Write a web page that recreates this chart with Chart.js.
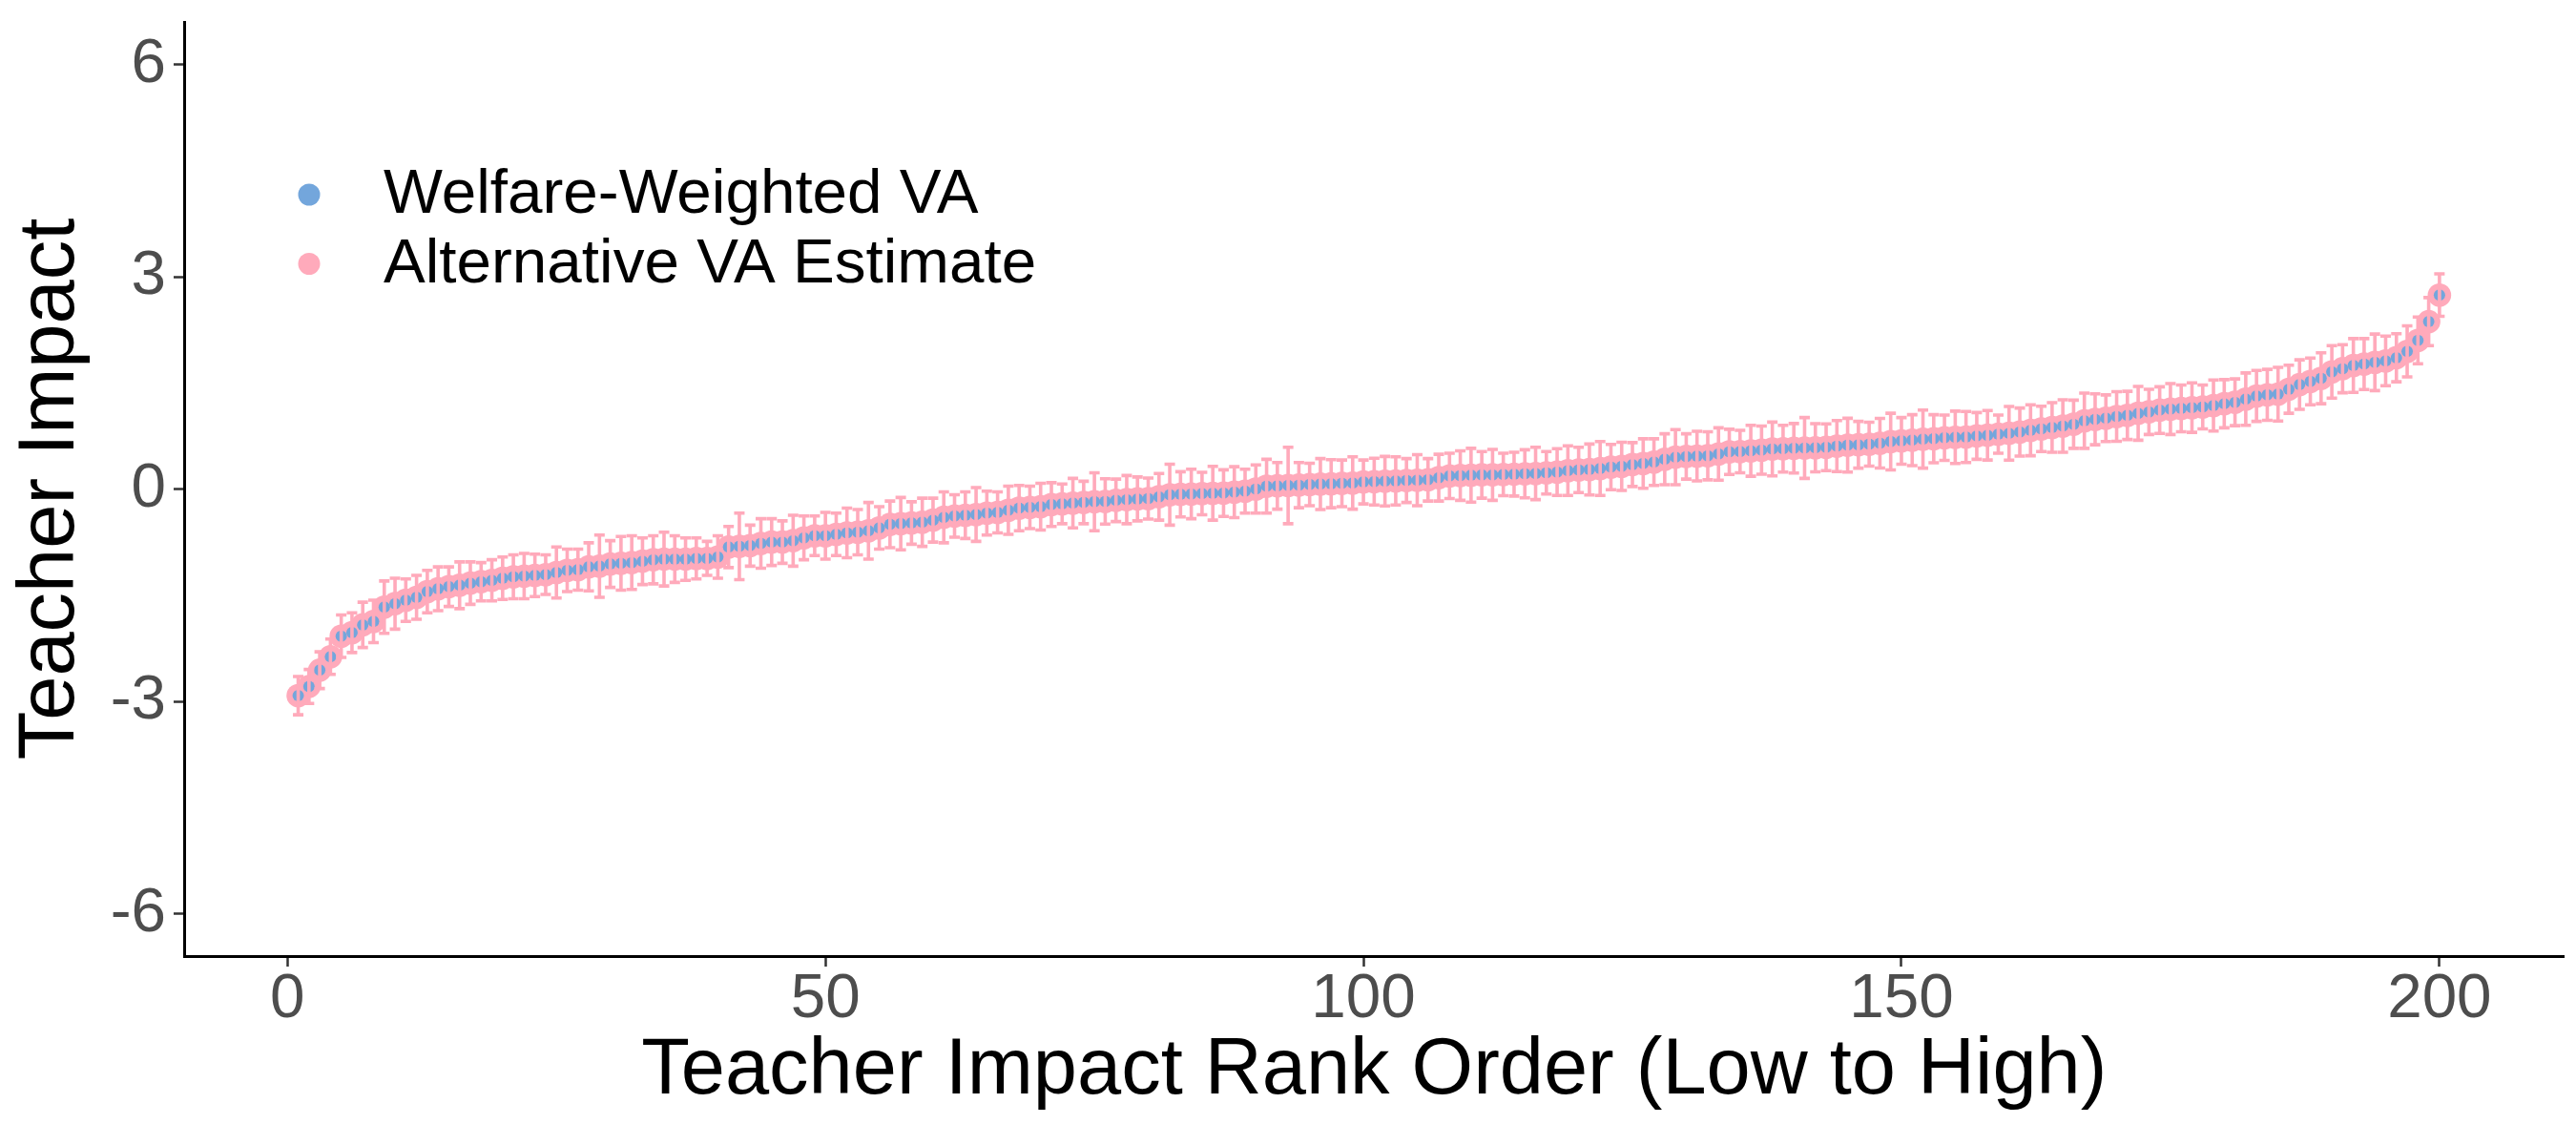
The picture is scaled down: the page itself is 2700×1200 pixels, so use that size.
<!DOCTYPE html>
<html>
<head>
<meta charset="utf-8">
<title>Teacher Impact</title>
<script src="https://cdn.jsdelivr.net/npm/chart.js@4.4.1/dist/chart.umd.min.js"></script>
<style>
    body { margin: 0; background: #fff; }
    #chart { display: block; }
</style>
</head>
<body>
<canvas id="chart" width="2700" height="1200"></canvas>
<script>
// Series labels
const seriesLabels = ["Welfare-Weighted VA", "Alternative VA Estimate"];

// Teacher impact estimates, ordered by rank 1..200
const welfareVA = [
    -2.92, -2.79, -2.56, -2.37, -2.08, -2.03, -1.92, -1.87, -1.67, -1.62,
    -1.57, -1.53, -1.45, -1.41, -1.38, -1.36, -1.33, -1.31, -1.29, -1.26,
    -1.24, -1.23, -1.22, -1.21, -1.18, -1.15, -1.14, -1.10, -1.09, -1.06,
    -1.05, -1.04, -1.02, -1.00, -0.99, -0.99, -0.99, -0.98, -0.98, -0.96,
    -0.82, -0.81, -0.80, -0.77, -0.75, -0.75, -0.73, -0.69, -0.66, -0.66,
    -0.64, -0.62, -0.61, -0.59, -0.55, -0.50, -0.49, -0.48, -0.47, -0.44,
    -0.40, -0.38, -0.37, -0.36, -0.34, -0.33, -0.30, -0.27, -0.26, -0.25,
    -0.22, -0.21, -0.20, -0.19, -0.18, -0.175, -0.16, -0.15, -0.14, -0.135,
    -0.11, -0.08, -0.075, -0.07, -0.065, -0.06, -0.058, -0.045, -0.03, 0.00,
    0.04, 0.045, 0.05, 0.055, 0.065, 0.07, 0.075, 0.08, 0.085, 0.10,
    0.105, 0.11, 0.115, 0.12, 0.125, 0.13, 0.16, 0.185, 0.19, 0.195,
    0.20, 0.20, 0.205, 0.21, 0.215, 0.22, 0.23, 0.24, 0.26, 0.27,
    0.275, 0.29, 0.31, 0.32, 0.345, 0.36, 0.38, 0.42, 0.45, 0.46,
    0.465, 0.47, 0.495, 0.525, 0.53, 0.54, 0.55, 0.565, 0.57, 0.575,
    0.58, 0.583, 0.59, 0.607, 0.62, 0.625, 0.633, 0.647, 0.67, 0.68,
    0.69, 0.705, 0.71, 0.725, 0.73, 0.735, 0.75, 0.76, 0.775, 0.787,
    0.805, 0.83, 0.85, 0.87, 0.89, 0.915, 0.965, 0.985, 1.00, 1.025,
    1.04, 1.07, 1.09, 1.115, 1.13, 1.14, 1.15, 1.16, 1.18, 1.205,
    1.225, 1.27, 1.315, 1.33, 1.34, 1.41, 1.475, 1.52, 1.565, 1.655,
    1.70, 1.745, 1.765, 1.79, 1.81, 1.855, 1.945, 2.10, 2.365, 2.74
];

// Alternative estimate sits on top of the welfare-weighted one in the picture
const altVA = welfareVA;

// Half-length of each error bar on the alternative estimate
const altErr = [
    0.27, 0.24, 0.26, 0.25, 0.30, 0.28, 0.32, 0.30, 0.37, 0.36,
    0.30, 0.31, 0.30, 0.31, 0.28, 0.33, 0.30, 0.27, 0.29, 0.30,
    0.31, 0.32, 0.30, 0.28, 0.36, 0.30, 0.29, 0.34, 0.44, 0.33,
    0.38, 0.38, 0.33, 0.34, 0.38, 0.33, 0.30, 0.29, 0.24, 0.30,
    0.29, 0.47, 0.29, 0.35, 0.33, 0.30, 0.36, 0.31, 0.28, 0.33,
    0.30, 0.35, 0.32, 0.40, 0.30, 0.33, 0.37, 0.30, 0.34, 0.31,
    0.36, 0.30, 0.33, 0.38, 0.31, 0.29, 0.34, 0.32, 0.30, 0.33,
    0.31, 0.28, 0.35, 0.30, 0.41, 0.32, 0.30, 0.34, 0.31, 0.29,
    0.33, 0.43, 0.32, 0.35, 0.30, 0.38, 0.33, 0.36, 0.31, 0.34,
    0.38, 0.33, 0.54, 0.32, 0.30, 0.36, 0.34, 0.33, 0.37, 0.31,
    0.33, 0.35, 0.34, 0.31, 0.36, 0.30, 0.33, 0.32, 0.35, 0.38,
    0.33, 0.36, 0.30, 0.31, 0.34, 0.37, 0.30, 0.33, 0.35, 0.32,
    0.36, 0.38, 0.32, 0.34, 0.31, 0.35, 0.33, 0.36, 0.39, 0.32,
    0.35, 0.34, 0.37, 0.32, 0.30, 0.36, 0.34, 0.38, 0.33, 0.35,
    0.43, 0.34, 0.33, 0.36, 0.38, 0.33, 0.31, 0.35, 0.40, 0.33,
    0.36, 0.41, 0.34, 0.32, 0.37, 0.36, 0.33, 0.35, 0.27, 0.38,
    0.34, 0.36, 0.32, 0.35, 0.37, 0.34, 0.39, 0.36, 0.33, 0.35,
    0.34, 0.38, 0.32, 0.33, 0.36, 0.33, 0.35, 0.31, 0.36, 0.34,
    0.33, 0.37, 0.36, 0.36, 0.38, 0.34, 0.35, 0.33, 0.36, 0.37,
    0.34, 0.38, 0.36, 0.40, 0.35, 0.34, 0.36, 0.33, 0.34, 0.30
];

// Tick labels
const xTicks = [0, 50, 100, 150, 200];
const yTicks = [-6, -3, 0, 3, 6];

const BLUE = "rgb(115, 166, 220)";
const PINK = "rgb(255, 170, 187)";
const FONT = "'Liberation Sans', Arial, Helvetica, sans-serif";

// rank is just the position in the list
const toPoints = arr => arr.map((v, i) => ({ x: i + 1, y: v }));

// Pink error bars on top of the points
const errorBarPlugin = {
    id: "errorBars",
    afterDatasetsDraw(chart) {
        const ctx = chart.ctx;
        const xs = chart.scales.x;
        const ys = chart.scales.y;
        ctx.save();
        ctx.strokeStyle = PINK;
        ctx.lineWidth = 3.6;
        altVA.forEach((v, i) => {
            const px = xs.getPixelForValue(i + 1);
            const top = ys.getPixelForValue(v + altErr[i]);
            const bot = ys.getPixelForValue(v - altErr[i]);
            ctx.beginPath();
            ctx.moveTo(px, top);
            ctx.lineTo(px, bot);
            ctx.moveTo(px - 5.5, top);
            ctx.lineTo(px + 5.5, top);
            ctx.moveTo(px - 5.5, bot);
            ctx.lineTo(px + 5.5, bot);
            ctx.stroke();
        });
        ctx.restore();
    }
};

// ggplot style legend inside the panel, top left
const insideLegendPlugin = {
    id: "insideLegend",
    afterDraw(chart) {
        const ctx = chart.ctx;
        const colors = [BLUE, PINK];
        ctx.save();
        ctx.font = "65.6px " + FONT;
        ctx.textBaseline = "middle";
        ctx.textAlign = "left";
        seriesLabels.forEach((label, i) => {
            const cy = 204 + i * 72.5;
            ctx.fillStyle = colors[i];
            ctx.beginPath();
            ctx.arc(324, cy, 11.5, 0, Math.PI * 2);
            ctx.fill();
            ctx.fillStyle = "#000";
            ctx.fillText(label, 402, cy + 1);
        });
        ctx.restore();
    }
};

const tickFont = { family: FONT, size: 65.6, lineHeight: 1.0 };
const titleFont = { family: FONT, size: 83 };

new Chart(document.getElementById("chart").getContext("2d"), {
    type: "scatter",
    data: {
        datasets: [
            {
                label: seriesLabels[0],
                data: toPoints(welfareVA),
                backgroundColor: BLUE,
                borderWidth: 0,
                pointRadius: 6,
                order: 0
            },
            {
                label: seriesLabels[1],
                data: toPoints(altVA),
                backgroundColor: PINK,
                borderWidth: 0,
                pointRadius: 12.3,
                order: 1
            }
        ]
    },
    options: {
        responsive: false,
        devicePixelRatio: 1,
        animation: false,
        layout: { padding: { top: 23, right: 12, left: 0, bottom: 0 } },
        plugins: {
            legend: { display: false },
            tooltip: { enabled: false }
        },
        scales: {
            x: {
                type: "linear",
                min: -9.6,
                max: 211.6,
                afterFit: s => {
                    s.height = 198;
                    s.paddingLeft = 0;
                    s.paddingRight = 0;
                },
                afterBuildTicks: s => { s.ticks = xTicks.map(v => ({ value: v })); },
                border: { display: true, color: "#000", width: 3 },
                grid: { display: true, drawOnChartArea: false, drawTicks: true, tickLength: 11, tickWidth: 2.5, tickColor: "#333" },
                ticks: { color: "#4d4d4d", font: tickFont, padding: 2, maxRotation: 0, autoSkip: false },
                title: {
                    display: true,
                    text: "Teacher Impact Rank Order (Low to High)",
                    color: "#000",
                    font: titleFont,
                    padding: { top: 0, bottom: 27 }
                }
            },
            y: {
                min: -6.6,
                max: 6.6,
                afterFit: s => {
                    s.width = 193;
                    s.paddingTop = 0;
                    s.paddingBottom = 0;
                },
                afterBuildTicks: s => { s.ticks = yTicks.map(v => ({ value: v })); },
                border: { display: true, color: "#000", width: 3 },
                grid: { display: true, drawOnChartArea: false, drawTicks: true, tickLength: 11, tickWidth: 2.5, tickColor: "#333" },
                ticks: { color: "#4d4d4d", font: tickFont, padding: 8 },
                title: {
                    display: true,
                    text: "Teacher Impact",
                    color: "#000",
                    font: titleFont,
                    padding: { top: 4, bottom: 0 }
                }
            }
        }
    },
    plugins: [errorBarPlugin, insideLegendPlugin]
});
</script>
</body>
</html>
